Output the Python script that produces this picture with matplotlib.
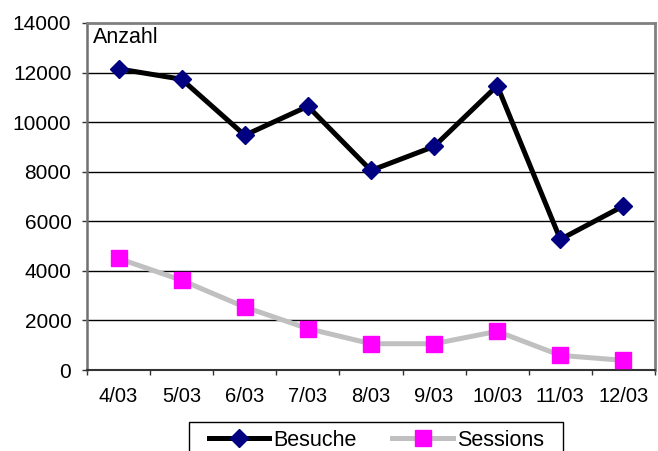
import matplotlib
matplotlib.use("Agg")
import matplotlib.pyplot as plt
import matplotlib.patches as mpatches
import numpy as np

months = ["4/03", "5/03", "6/03", "7/03", "8/03", "9/03", "10/03", "11/03", "12/03"]
besuche = [12150, 11730, 9470, 10640, 8050, 9020, 11470, 5270, 6620]
sessions = [4500, 3620, 2540, 1670, 1060, 1060, 1560, 590, 390]
yticks = [0, 2000, 4000, 6000, 8000, 10000, 12000, 14000]

plt.rcParams['font.family'] = ['Liberation Sans', 'DejaVu Sans']

W, H = 658, 451
fig = plt.figure(figsize=(W / 100, H / 100), dpi=100)
L, R, T, B = 87, 655, 23, 370
ax = fig.add_axes([L / W, (H - B) / H, (R - L) / W, (B - T) / H])

x = np.arange(len(months))
ax.plot(x, besuche, color='black', lw=3.6, marker='D', ms=9,
        mfc='#000080', mec='#000080', label='Besuche', zorder=4)
ax.plot(x, sessions, color='#c0c0c0', lw=3.6, marker='s', ms=11,
        mfc='#ff00ff', mec='#ff00ff', label='Sessions', zorder=3)

ax.set_xlim(-0.5, len(months) - 0.5)
ax.set_ylim(0, 14000)
ax.set_yticks(yticks)
ax.set_yticklabels([str(v) for v in yticks], fontsize=15)
ax.set_xticks(x)
ax.set_xticklabels(months, fontsize=14.5)
ax.set_xticks(np.arange(-0.5, len(months)), minor=True)
ax.tick_params(axis='x', which='major', length=0, pad=12)
ax.tick_params(axis='x', which='minor', length=3.75, width=1, color='#333333', direction='out')
ax.tick_params(axis='y', which='major', length=3.75, width=1, color='#333333', direction='out', pad=7.5)

for v in yticks[1:-1]:
    ax.axhline(v, color='black', lw=1, zorder=1)

for s in ['top', 'right']:
    ax.spines[s].set_color('#808080')
    ax.spines[s].set_linewidth(2)
ax.spines['left'].set_color('#707070')
ax.spines['left'].set_linewidth(1.8)
ax.spines['bottom'].set_color('#333333')
ax.spines['bottom'].set_linewidth(1.5)

ax.text((93 - L) / (R - L), (B - 42.7) / (B - T), "Anzahl", transform=ax.transAxes,
        fontsize=15.5, ha='left', va='baseline')

leg = fig.legend(loc='upper left', bbox_to_anchor=(209 / W, (H - 429.5) / H),
                 ncol=2, fontsize=15.5, frameon=False,
                 handlelength=2.8, handletextpad=0.2, columnspacing=1.65,
                 borderpad=0, borderaxespad=0)
fig.add_artist(mpatches.Rectangle((189 / W, (H - 470) / H), 374 / W, 48.3 / H,
                                  transform=fig.transFigure, fill=False,
                                  edgecolor='black', lw=1))

fig.savefig("out.png", dpi=100)
